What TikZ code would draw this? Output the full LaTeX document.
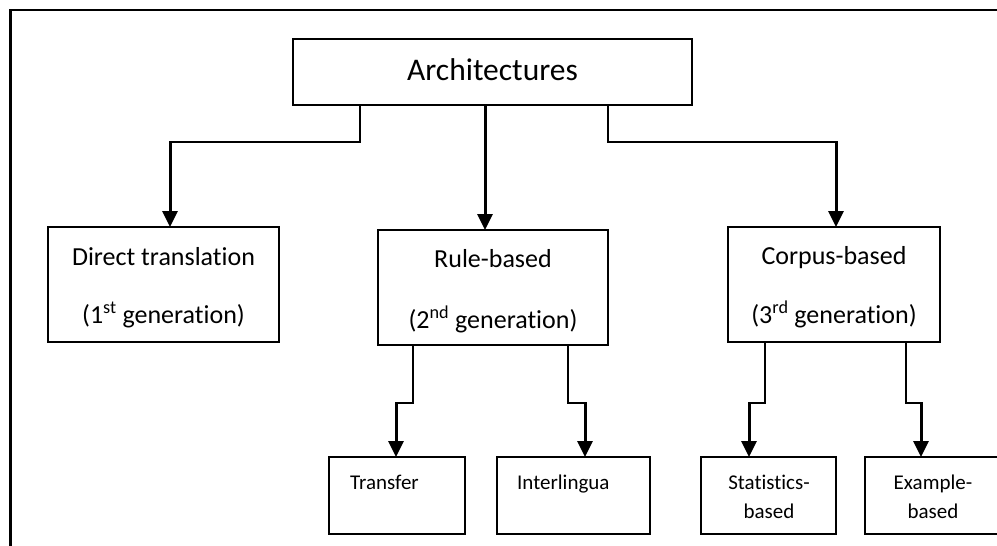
\documentclass[tikz,border=0pt]{standalone}
\usepackage{fontspec}
\setmainfont[Ligatures=NoCommon]{Carlito}
\usetikzlibrary{arrows.meta}
\begin{document}
\begin{tikzpicture}[x=1pt,y=-1pt,
  box/.style={draw,line width=2pt,anchor=north west,inner sep=0pt,outer sep=0pt},
  link/.style={line width=2pt},
  arr/.style={line width=3pt,-{Triangle[width=15pt,length=16pt]}},
  bigtxt/.style={font=\fontsize{31.5}{36}\selectfont,anchor=base,inner sep=0pt},
  midtxt/.style={font=\fontsize{26}{30}\selectfont,anchor=base,inner sep=0pt},
  smalltxt/.style={font=\fontsize{21}{25}\selectfont,anchor=base,inner sep=0pt}]
\useasboundingbox (0,0) rectangle (997,546);
\clip (0,0) rectangle (997,546);
% frame
\draw[line width=2.2pt] (10.5,560) -- (10.5,10) -- (1010,10);
% boxes
\node[box,minimum width=399pt,minimum height=66pt] (arch) at (293,39) {};
\node[box,minimum width=231pt,minimum height=115pt] (dt) at (48,227) {};
\node[box,minimum width=230pt,minimum height=115pt] (rb) at (378,230) {};
\node[box,minimum width=212pt,minimum height=115pt] (cb) at (728,227) {};
\node[box,minimum width=136pt,minimum height=77pt] (tr) at (329,457) {};
\node[box,minimum width=153pt,minimum height=77pt] (il) at (497,457) {};
\node[box,minimum width=135pt,minimum height=77pt] (sb) at (701,457) {};
\node[box,minimum width=136pt,minimum height=77pt] (eb) at (865,457) {};
% texts
\node[bigtxt] (tarch) at (492.5,80) {Architectures};
\node[midtxt] (tdt1) at (163.5,265) {Direct translation};
\node[midtxt] (tdt2) at (163.5,323) {(1\textsuperscript{st} generation)};
\node[midtxt] (trb1) at (493,267) {Rule-based};
\node[midtxt] (trb2) at (493,328) {(2\textsuperscript{nd} generation)};
\node[midtxt] (tcb1) at (834,264) {Corpus-based};
\node[midtxt] (tcb2) at (834,323) {(3\textsuperscript{rd} generation)};
\node[smalltxt,anchor=base west] (ttr) at (350,489) {Transfer};
\node[smalltxt,anchor=base west] (til) at (517,489) {Interlingua};
\node[smalltxt] (tsb1) at (769,489) {Statistics-};
\node[smalltxt] (tsb2) at (769,518) {based};
\node[smalltxt] (teb1) at (933,489) {Example-};
\node[smalltxt] (teb2) at (933,518) {based};
% connectors from Architectures
\coordinate (b1) at (170,142);
\draw[link] ([xshift=67pt]arch.south west) |- (b1);
\draw[arr] ([yshift=1pt]b1) -- (b1 |- dt.north);
\coordinate (b2) at (485,105);
\draw[arr] ([xshift=192pt]arch.south west) -- (b2 |- rb.north);
\coordinate (b3) at (836,142);
\draw[link] ([xshift=315pt]arch.south west) |- (b3);
\draw[arr] ([yshift=1pt]b3) -- (b3 |- cb.north);
% connectors from Rule-based
\coordinate (b4) at (396,403);
\draw[link] ([xshift=35pt]rb.south west) |- (b4);
\draw[arr] ([yshift=1pt]b4) -- (b4 |- tr.north);
\coordinate (b5) at (585,403);
\draw[link] ([xshift=190pt]rb.south west) |- (b5);
\draw[arr] ([yshift=1pt]b5) -- (b5 |- il.north);
% connectors from Corpus-based
\coordinate (b6) at (749,403);
\draw[link] ([xshift=37pt]cb.south west) |- (b6);
\draw[arr] ([yshift=1pt]b6) -- (b6 |- sb.north);
\coordinate (b7) at (921,403);
\draw[link] ([xshift=178pt]cb.south west) |- (b7);
\draw[arr] ([yshift=1pt]b7) -- (b7 |- eb.north);
\end{tikzpicture}
\end{document}
